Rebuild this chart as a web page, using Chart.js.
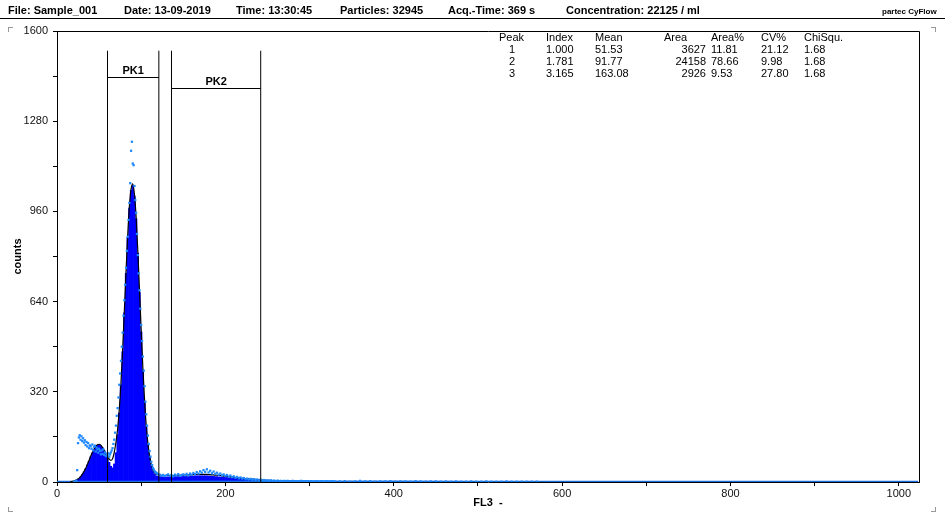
<!DOCTYPE html>
<html>
<head>
<meta charset="utf-8">
<script src="https://cdn.jsdelivr.net/npm/chart.js"></script>
<style>
  body { margin: 0; background: #fff; font-family: "Liberation Sans", Arial, sans-serif; }
  #page { position: relative; width: 945px; height: 517px; overflow: hidden; }
  #page canvas { position: absolute; left: 0; top: 0; }
  .hdr { position: absolute; top: 4px; font-weight: bold; font-size: 11px; white-space: pre; color: #000; }
  #rule { position: absolute; left: 0; top: 18px; width: 945px; height: 1px; background: #000; }
  .brand { position: absolute; left: 882px; top: 7px; font-weight: bold; font-size: 8px; }
  .cell { position: absolute; font-size: 11px; white-space: pre; color: #000; line-height: 12px; }
  .corner { position: absolute; width: 4px; height: 4px; border-color: #999; border-style: solid; border-width: 0; }
</style>
</head>
<body>
<div id="page">
  <canvas id="chart" width="945" height="517"></canvas>
  <div class="hdr" style="left:8px">File: Sample_001</div>
  <div class="hdr" style="left:124px">Date: 13-09-2019</div>
  <div class="hdr" style="left:236px">Time: 13:30:45</div>
  <div class="hdr" style="left:340px">Particles: 32945</div>
  <div class="hdr" style="left:448px">Acq.-Time: 369 s</div>
  <div class="hdr" style="left:566px">Concentration: 22125 / ml</div>
  <div class="brand">partec CyFlow</div>
  <div id="rule"></div>
  <div id="table"></div>
  <div class="corner" style="left:8px;top:27px;border-left-width:1px;border-top-width:1px"></div>
  <div class="corner" style="left:931px;top:27px;border-right-width:1px;border-top-width:1px"></div>
  <div class="corner" style="left:8px;top:507px;border-left-width:1px;border-bottom-width:1px"></div>
  <div class="corner" style="left:931px;top:507px;border-right-width:1px;border-bottom-width:1px"></div>
</div>
<script>
// Histogram channels: 16, 18, ... 300
const binStart = 16;
const binStep = 2;

// Filled histogram (blue bars)
const histCounts = [
  0, 1, 2, 5, 8, 12, 18, 26, 36, 47, 60, 74, 89, 103, 115, 124, 130, 132, 129, 121,
  111, 100, 86, 70, 56, 50, 64, 104, 168, 245, 345, 462, 600, 740, 868, 972, 1035, 1052, 1014, 934,
  812, 672, 532, 398, 286, 195, 132, 88, 58, 40, 28, 22, 20, 19, 19, 18, 18, 18,
  18, 18, 18, 18, 19, 19, 19, 19, 19, 20, 20, 20, 20, 21, 21, 21, 22, 22, 22, 22,
  22, 22, 22, 22, 21, 21, 20, 20, 19,
  19, 18, 18, 17, 17, 16, 16, 15, 15, 14, 14, 13, 13, 12, 12, 11, 11, 10, 10, 9,
  9, 8, 8, 8, 7, 7, 6, 6, 6, 5, 5, 5, 4, 4, 4, 4, 3, 3, 3, 3,
  3, 3, 2, 2, 2, 2, 2, 2, 2, 2, 1, 1, 1, 1, 1, 1
];

// Fitted curve (black line), same channels
const fitCounts = [
  1, 2, 3, 6, 9, 13, 19, 27, 37, 48, 62, 76, 91, 105, 117, 126, 132, 134, 131, 123,
  113, 103, 91, 81, 77, 82, 105, 140, 188, 258, 352, 470, 607, 746, 875, 978, 1040, 1058, 1020, 940,
  820, 680, 540, 405, 292, 200, 136, 92, 62, 43, 32, 28, 26, 25, 24, 24, 23, 23,
  23, 23, 23, 23, 23, 23, 24, 24, 24, 24, 25, 25, 25, 26, 26, 26, 27, 27, 27, 27,
  27, 27, 27, 27, 26, 26, 25, 25, 24,
  24, 23, 23, 22, 21, 21, 20, 19, 18, 18, 17, 16, 15, 14, 14, 13, 12, 12, 11, 11,
  10, 10, 9, 9, 8, 8, 7, 7, 7, 6, 6, 6, 5, 5, 5, 5, 4, 4, 4, 4,
  4, 3, 3, 3, 3, 3, 3, 2, 2, 2, 2, 2, 2, 2, 2, 2
];

// Raw channel counts (dots): channels 20..120, one per channel
const rawStart = 20;
const rawCounts = [
  0, 1, 2, 5, 42, 138, 158, 166, 150, 162, 145, 155, 140, 148, 131, 142, 126, 138, 120, 130,
  127, 118, 133, 112, 125, 129, 108, 122, 115, 104, 118, 110, 98, 112, 100, 116, 96, 105, 92, 100,
  95, 102, 90, 98, 105, 112, 120, 135, 150, 175, 200, 235, 262, 300, 345, 385, 430, 480, 530, 590,
  645, 700, 760, 820, 870, 930, 990, 1060, 1175, 1207, 1130, 1124, 1050, 1000, 955, 880, 805, 740, 680, 615,
  557, 500, 445, 395, 340, 285, 240, 200, 165, 135, 110, 90, 72, 60, 50, 44, 38, 35, 32, 30,
  28
];

// Raw counts, channels 122..330 every 2nd channel
const rawTailStart = 122;
const rawTailCounts = [
  26, 22, 25, 21, 24, 27, 22, 25, 20, 26, 23, 28, 22, 25, 27, 24, 29, 23, 30, 26,
  32, 28, 35, 30, 38, 33, 42, 36, 45, 34, 40, 31, 37, 29, 33, 26, 30, 24, 27, 22,
  25, 19, 23, 17, 20, 15, 18, 13, 16, 12, 14, 10, 12, 9, 11, 8, 10, 7, 9, 6,
  8, 5, 7, 5, 6, 4, 6, 4, 5, 3, 5, 3, 4, 3, 4, 2, 4, 3, 2, 4,
  3, 2, 3, 2, 4, 2, 3, 2, 3, 2, 3, 2, 2, 3, 2, 2, 3, 2, 2, 3,
  2, 2, 3, 2, 2
];

// Raw counts, channels 336..570 every 6th channel
const rawFarStart = 336;
const rawFarCounts = [
  2, 3, 1, 2, 4, 2, 3, 1, 2, 2, 3, 1, 2, 2, 1, 3, 2, 1, 2, 2,
  1, 2, 1, 2, 1, 1, 2, 1, 1, 2, 1, 1, 1, 2, 1, 1, 1, 1, 1, 1
];

// Low background along the whole range
const baseChannels = [0, 16, 300, 400, 500, 600, 700, 800, 900, 1023];
const baseCounts = [1, 1, 2, 2, 1, 1, 1, 1, 1, 1];

// Axis ticks
const xTickValues = [0, 100, 200, 300, 400, 500, 600, 700, 800, 900, 1000];
const xTickLabels = ['0', '', '200', '', '400', '', '600', '', '800', '', '1000'];

// Gates
const regionNames = ['PK1', 'PK2'];
const regionFrom = [60, 136];
const regionTo = [121, 242];
const regionBar = [1437, 1398];
const regionTop = 1530;

// Peak table
const peakNo = ['1', '2', '3'];
const peakIndex = ['1.000', '1.781', '3.165'];
const peakMean = ['51.53', '91.77', '163.08'];
const peakArea = ['3627', '24158', '2926'];
const peakAreaPct = ['11.81', '78.66', '9.53'];
const peakCV = ['21.12', '9.98', '27.80'];
const peakChi = ['1.68', '1.68', '1.68'];

// build the peak table
(function () {
    const table = document.getElementById('table');
    let html = '';
    const rowTop = [31, 43, 55, 67];
    const cell = (txt, left, top, align) => {
        if (align === 'right') {
            return `<div class="cell" style="right:${945 - left}px;top:${top}px">${txt}</div>`;
        }
        if (align === 'center') {
            return `<div class="cell" style="left:${left - 20}px;width:40px;text-align:center;top:${top}px">${txt}</div>`;
        }
        return `<div class="cell" style="left:${left}px;top:${top}px">${txt}</div>`;
    };
    html += cell('Peak', 499, rowTop[0]);
    html += cell('Index', 546, rowTop[0]);
    html += cell('Mean', 595, rowTop[0]);
    html += cell('Area', 664, rowTop[0]);
    html += cell('Area%', 711, rowTop[0]);
    html += cell('CV%', 761, rowTop[0]);
    html += cell('ChiSqu.', 804, rowTop[0]);
    peakNo.forEach((p, i) => {
        const t = rowTop[i + 1];
        html += cell(p, 512, t, 'center');
        html += cell(peakIndex[i], 546, t);
        html += cell(peakMean[i], 595, t);
        html += cell(peakArea[i], 706, t, 'right');
        html += cell(peakAreaPct[i], 711, t);
        html += cell(peakCV[i], 761, t);
        html += cell(peakChi[i], 804, t);
    });
    table.innerHTML = html;
})();

const toPoints = (start, step, values) => values.map((v, i) => ({ x: start + i * step, y: v }));

const rawPoints = toPoints(rawStart, 1, rawCounts)
    .concat(toPoints(rawTailStart, 2, rawTailCounts))
    .concat(toPoints(rawFarStart, 6, rawFarCounts));

// Gate lines, frame top/right
const gatePlugin = {
    id: 'gates',
    afterDatasetsDraw(chart) {
        const { ctx, chartArea: a, scales: { x, y } } = chart;
        ctx.save();
        ctx.strokeStyle = '#000';
        ctx.lineWidth = 1;
        ctx.beginPath();
        ctx.moveTo(a.left, a.top + 0.5);
        ctx.lineTo(a.right + 0.5, a.top + 0.5);
        ctx.lineTo(a.right + 0.5, a.bottom);
        ctx.stroke();

        const yTop = y.getPixelForValue(regionTop);
        regionNames.forEach((name, i) => {
            const x0 = x.getPixelForValue(regionFrom[i]);
            const x1 = x.getPixelForValue(regionTo[i]);
            const yBar = Math.round(y.getPixelForValue(regionBar[i])) + 0.5;
            ctx.beginPath();
            ctx.moveTo(x0, a.bottom);
            ctx.lineTo(x0, yTop);
            ctx.moveTo(x1, a.bottom);
            ctx.lineTo(x1, yTop);
            ctx.moveTo(x0, yBar);
            ctx.lineTo(x1, yBar);
            ctx.stroke();
            ctx.fillStyle = '#000';
            ctx.font = 'bold 11px "Liberation Sans", Arial';
            ctx.textAlign = 'center';
            ctx.textBaseline = 'bottom';
            ctx.fillText(name, (x0 + x1) / 2, yBar - 1);
        });
        ctx.restore();
    }
};

const tickFont = { family: '"Liberation Sans", Arial', size: 11 };

new Chart(document.getElementById('chart'), {
    type: 'bar',
    data: {
        datasets: [
            {
                type: 'line',
                label: 'raw',
                data: rawPoints,
                showLine: false,
                pointRadius: 1.6,
                pointStyle: 'rect',
                pointBorderWidth: 0,
                pointBackgroundColor: '#1e88ff',
                order: 0
            },
            {
                type: 'line',
                label: 'fit',
                data: toPoints(binStart, binStep, fitCounts),
                borderColor: '#000',
                borderWidth: 1.2,
                pointRadius: 0,
                cubicInterpolationMode: 'monotone',
                order: 1
            },
            {
                type: 'line',
                label: 'base',
                data: baseChannels.map((c, i) => ({ x: c, y: baseCounts[i] })),
                borderColor: '#1a6ee0',
                borderWidth: 2,
                pointRadius: 0,
                order: 2
            },
            {
                type: 'bar',
                label: 'histogram',
                data: toPoints(binStart, binStep, histCounts),
                backgroundColor: '#0000ff',
                borderWidth: 0,
                barPercentage: 1,
                categoryPercentage: 1,
                order: 3
            }
        ]
    },
    options: {
        responsive: false,
        animation: false,
        events: [],
        layout: { padding: { top: 31, right: 26, left: 0, bottom: 0 } },
        plugins: {
            legend: { display: false },
            tooltip: { enabled: false }
        },
        scales: {
            x: {
                type: 'linear',
                min: 0,
                max: 1024,
                offset: false,
                afterFit: (s) => { s.height = 35; },
                afterBuildTicks: (s) => { s.ticks = xTickValues.map((v) => ({ value: v })); },
                grid: { offset: false, drawOnChartArea: false, drawTicks: true, tickLength: 4, color: '#000' },
                border: { display: true, color: '#000', width: 1 },
                ticks: {
                    padding: 1,
                    color: '#111',
                    font: tickFont,
                    maxRotation: 0,
                    autoSkip: false,
                    callback: (v) => xTickLabels[xTickValues.indexOf(v)]
                },
                title: {
                    display: true,
                    text: 'FL3  -',
                    color: '#000',
                    font: { family: '"Liberation Sans", Arial', size: 11, weight: 'bold' },
                    padding: { top: 0, bottom: 7 }
                }
            },
            y: {
                min: 0,
                max: 1600,
                afterFit: (s) => { s.width = 57; },
                grid: { drawOnChartArea: false, drawTicks: true, tickLength: 4, color: '#000' },
                border: { display: true, color: '#000', width: 1 },
                ticks: {
                    stepSize: 160,
                    padding: 5,
                    color: '#111',
                    font: tickFont,
                    autoSkip: false,
                    callback: (v) => (v % 320 === 0 ? String(v) : '')
                },
                title: {
                    display: true,
                    text: 'counts',
                    color: '#000',
                    font: { family: '"Liberation Sans", Arial', size: 11, weight: 'bold' },
                    padding: { top: 11, bottom: 0 }
                }
            }
        }
    },
    plugins: [gatePlugin]
});
</script>
</body>
</html>
